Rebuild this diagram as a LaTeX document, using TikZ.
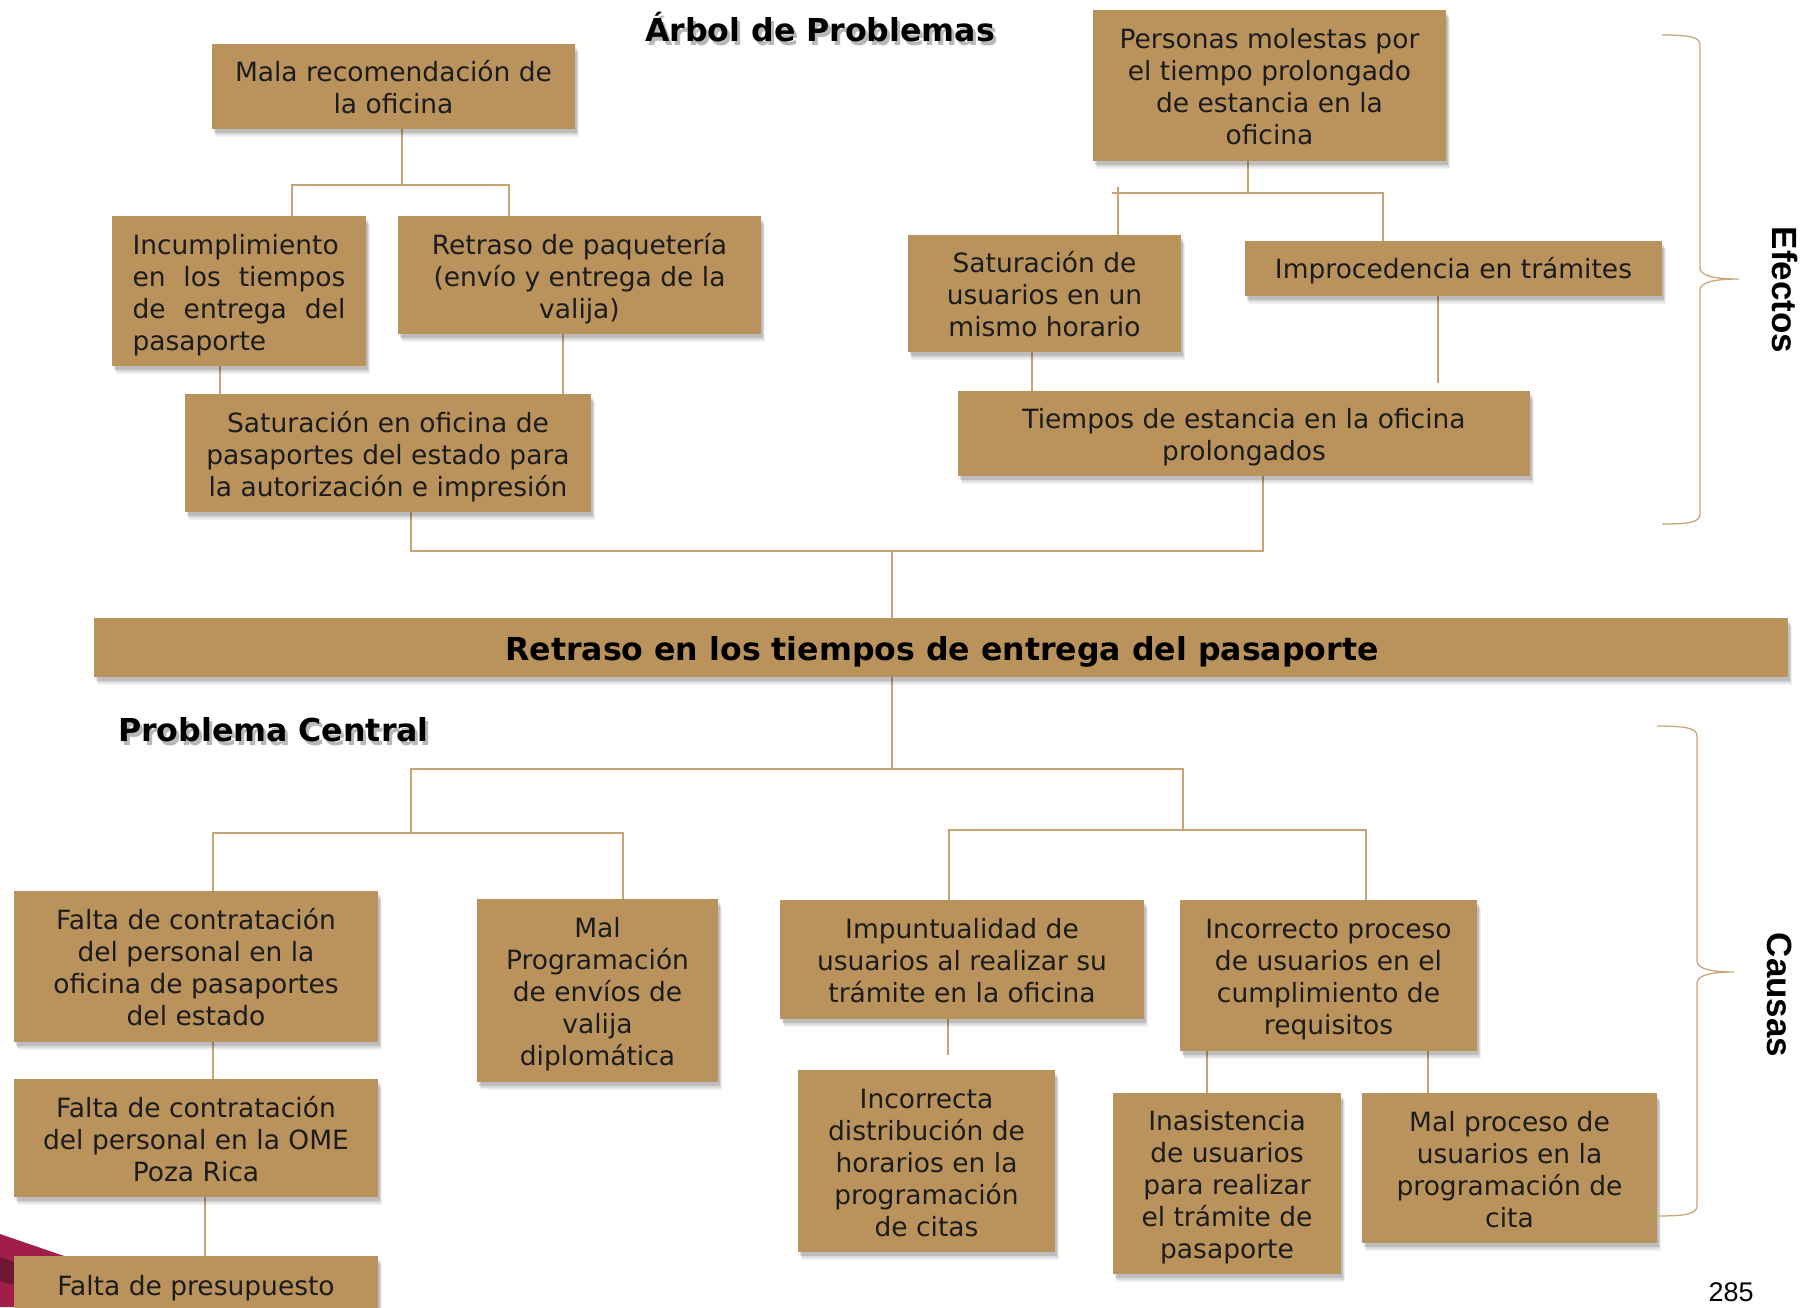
\documentclass[tikz,border=0pt]{standalone}
\usepackage{fontspec}
\setmainfont{DejaVu Sans}
\newfontfamily\arialf{Liberation Sans}
\usetikzlibrary{shadows,backgrounds}
\definecolor{boxfill}{RGB}{186,147,92}
\definecolor{connc}{RGB}{198,164,116}
\definecolor{bracec}{RGB}{200,168,122}
\definecolor{txtc}{RGB}{28,28,28}
\definecolor{crim}{RGB}{160,30,72}
\definecolor{crimdark}{RGB}{110,22,50}
\newcommand{\bxfont}{\fontsize{26.5}{32}\selectfont}
\newcommand{\tb}{\rule{0pt}{28.5pt}}
\newcommand{\tbone}{\rule{0pt}{26pt}}
\begin{document}
\begin{tikzpicture}[x=1pt,y=-1pt,
  box/.style={fill=boxfill, text=txtc, align=center, inner sep=0pt,
    font=\bxfont,
    execute at end node={\rule[-6pt]{0pt}{6pt}},
    drop shadow={shadow xshift=4pt, shadow yshift=-8pt, opacity=0.06, fill=black},
    drop shadow={shadow xshift=3pt, shadow yshift=-6pt, opacity=0.09, fill=black},
    drop shadow={shadow xshift=2pt, shadow yshift=-4pt, opacity=0.13, fill=black}},
  conn/.style={draw=connc, line width=1.4pt},
  brc/.style={draw=bracec, line width=1.3pt},
  bigbold/.style={font=\fontsize{31.6}{38}\selectfont\bfseries, text=black, inner sep=0pt},
  side/.style={font=\arialf\fontsize{35}{40}\selectfont\bfseries, text=black, inner sep=0pt, rotate=-90}
]
\useasboundingbox (0,0) rectangle (1803,1307);

% ---------- titles ----------
\node[bigbold, anchor=base, text=black, opacity=0.28] (titleshadow) at (823,45) {Árbol de Problemas};
\node[bigbold, anchor=base west, text=black, opacity=0.28] (pcshadow) at (121,745) {Problema Central};
\node[bigbold, anchor=base] (title) at (820,41) {Árbol de Problemas};
\node[bigbold, anchor=base west] (pcentral) at (118,741) {Problema Central};

% ---------- boxes ----------
\node[box, minimum width=363pt, minimum height=85pt] (mala) at (393.5,86.5)
  {\tb Mala recomendación de\\la oficina};
\node[box, minimum width=254pt, minimum height=150pt, align=left] (incum) at (239,291)
  {\tb\makebox[213pt][l]{Incumplimiento}\\\makebox[213pt][s]{en los tiempos}\\\makebox[213pt][s]{de entrega del}\\\makebox[213pt][l]{pasaporte}};
\node[box, minimum width=363pt, minimum height=118pt] (retpaq) at (579.5,275)
  {\tb Retraso de paquetería\\(envío y entrega de la\\valija)};
\node[box, minimum width=406pt, minimum height=118pt] (satofi) at (388,453)
  {\tb Saturación en oficina de\\pasaportes del estado para\\la autorización e impresión};
\node[box, minimum width=353pt, minimum height=151pt] (personas) at (1269.5,85.5)
  {\tb Personas molestas por\\el tiempo prolongado\\de estancia en la\\oficina};
\node[box, minimum width=273pt, minimum height=117pt] (satusu) at (1044.5,293.5)
  {\tb Saturación de\\usuarios en un\\mismo horario};
\node[box, minimum width=417pt, minimum height=55pt] (improc) at (1453.5,268.5)
  {\tbone Improcedencia en trámites};
\node[box, minimum width=572pt, minimum height=85pt] (tiempos) at (1244,433.5)
  {\tb Tiempos de estancia en la oficina\\prolongados};

\node[box, minimum width=1694pt, minimum height=59pt, execute at end node={}] (main) at (941,647.5) {};
\node[bigbold, anchor=base] (maintext) at (942,660) {Retraso en los tiempos de entrega del pasaporte};

\node[box, minimum width=364pt, minimum height=151pt] (falta1) at (196,966.5)
  {\tb Falta de contratación\\del personal en la\\oficina de pasaportes\\del estado};
\node[box, minimum width=364pt, minimum height=118pt] (falta2) at (196,1138)
  {\tb Falta de contratación\\del personal en la OME\\Poza Rica};
\node[box, minimum width=364pt, minimum height=58pt] (presup) at (196,1285)
  {\tbone Falta de presupuesto};
\node[box, minimum width=241pt, minimum height=183pt] (malprog) at (597.5,990.5)
  {\tb Mal\\Programación\\de envíos de\\valija\\diplomática};
\node[box, minimum width=364pt, minimum height=119pt] (impunt) at (962,959.5)
  {\tb Impuntualidad de\\usuarios al realizar su\\trámite en la oficina};
\node[box, minimum width=257pt, minimum height=182pt] (incdist) at (926.5,1161)
  {\tb Incorrecta\\distribución de\\horarios en la\\programación\\de citas};
\node[box, minimum width=297pt, minimum height=151pt] (incproc) at (1328.5,975.5)
  {\tb Incorrecto proceso\\de usuarios en el\\cumplimiento de\\requisitos};
\node[box, minimum width=228pt, minimum height=181pt] (inasis) at (1227,1183.5)
  {\tb Inasistencia\\de usuarios\\para realizar\\el trámite de\\pasaporte};
\node[box, minimum width=295pt, minimum height=150pt] (malproc) at (1509.5,1168)
  {\tb Mal proceso de\\usuarios en la\\programación de\\cita};

% ---------- coordinates for connectors ----------
\coordinate (j1) at (402,185);
\coordinate (j1a) at (292,185);
\coordinate (j1b) at (509,185);
\coordinate (x220) at (220,0);
\coordinate (x563) at (563,0);
\coordinate (j2a) at (411,551);
\coordinate (j2b) at (1263,551);
\coordinate (j2m) at (892,551);
\coordinate (j3) at (1248,193);
\coordinate (j3a) at (1112,193);
\coordinate (j3b) at (1383,193);
\coordinate (j3t) at (1118,187);
\coordinate (x1032) at (1032,0);
\coordinate (imend) at (1438,383);
\coordinate (k0) at (892,769);
\coordinate (k1) at (411,769);
\coordinate (k2) at (1183,769);
\coordinate (k1d) at (411,833);
\coordinate (k1a) at (213,833);
\coordinate (k1b) at (623,833);
\coordinate (k2d) at (1183,830);
\coordinate (k2a) at (949,830);
\coordinate (k2b) at (1366,830);
\coordinate (x213) at (213,0);
\coordinate (x205) at (205,0);
\coordinate (iend) at (948,1055);
\coordinate (x1207) at (1207,0);
\coordinate (x1428) at (1428,0);

\begin{pgfonlayer}{background}
\fill[white] (0,0) rectangle (1803,1307);
% decorative corner
\fill[crim] (0,1234) -- (70,1258) -- (70,1307) -- (0,1307) -- cycle;
\fill[crimdark] (0,1257) -- (14,1262) -- (14,1285) -- (0,1281) -- cycle;

% ---------- connectors: effects ----------
\draw[conn] (mala.south -| j1) -- (j1);
\draw[conn] (j1a |- incum.north) -- (j1a) -- (j1b) -- (j1b |- retpaq.north);
\draw[conn] (incum.south -| x220) -- (satofi.north -| x220);
\draw[conn] (retpaq.south -| x563) -- (satofi.north -| x563);
\draw[conn] (satofi.south -| j2a) -- (j2a) -- (j2b) -- (tiempos.south -| j2b);
\draw[conn] (j2m) -- (main.north -| j2m);
\draw[conn] (personas.south -| j3) -- (j3);
\draw[conn] (j3a) -- (j3b) -- (improc.north -| j3b);
\draw[conn] (j3t) -- (satusu.north -| j3t);
\draw[conn] (satusu.south -| x1032) -- (tiempos.north -| x1032);
\draw[conn] (improc.south -| imend) -- (imend);

% ---------- connectors: causes ----------
\draw[conn] (main.south -| k0) -- (k0);
\draw[conn] (k1d) -- (k1) -- (k2) -- (k2d);
\draw[conn] (falta1.north -| k1a) -- (k1a) -- (k1b) -- (malprog.north -| k1b);
\draw[conn] (impunt.north -| k2a) -- (k2a) -- (k2b) -- (incproc.north -| k2b);
\draw[conn] (falta1.south -| x213) -- (falta2.north -| x213);
\draw[conn] (falta2.south -| x205) -- (presup.north -| x205);
\draw[conn] (impunt.south -| iend) -- (iend);
\draw[conn] (incproc.south -| x1207) -- (inasis.north -| x1207);
\draw[conn] (incproc.south -| x1428) -- (malproc.north -| x1428);
\end{pgfonlayer}

% ---------- braces ----------
\draw[brc] (1662,35) .. controls (1690,35) and (1700,37) .. (1700,45) -- (1700,268)
  .. controls (1700,276) and (1715,279) .. (1739,279)
  .. controls (1715,279) and (1700,282) .. (1700,290) -- (1700,514)
  .. controls (1700,522) and (1690,524) .. (1662,524);
\draw[brc] (1657,726) .. controls (1685,726) and (1697,728) .. (1697,736) -- (1697,961)
  .. controls (1697,969) and (1712,972) .. (1734,972)
  .. controls (1712,972) and (1697,975) .. (1697,983) -- (1697,1206)
  .. controls (1697,1214) and (1685,1216) .. (1657,1216);
\node[side] (efectos) at (1785,290) {Efectos};
\node[side] (causas) at (1780,995) {Causas};
\node[font=\arialf\fontsize{27}{30}\selectfont, text=black, inner sep=0pt] (pagenum) at (1731,1292) {285};
\end{tikzpicture}
\end{document}
